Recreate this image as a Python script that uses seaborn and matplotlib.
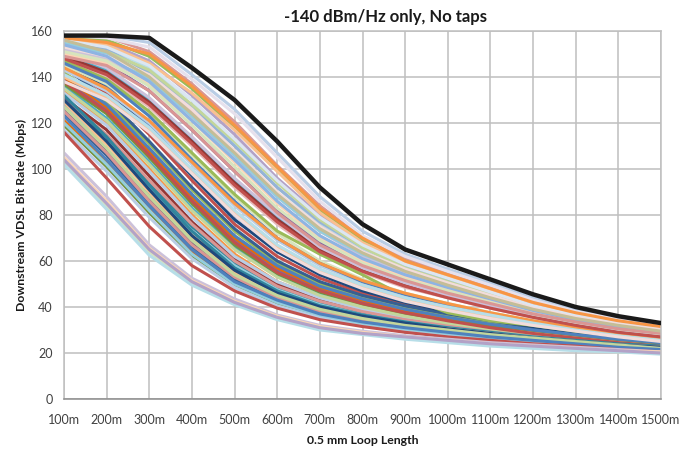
import matplotlib
matplotlib.use("Agg")
import matplotlib.pyplot as plt
import seaborn as sns
import pandas as pd

# Loop lengths (0.5 mm cable) and downstream VDSL bit rates in Mbps
lengths_m = [100, 200, 300, 400, 500, 600, 700, 800, 900, 1000, 1100, 1200, 1300, 1400, 1500]

# Best-case loop, drawn in black on top of all others
envelope = [158, 158, 157, 144, 130, 112, 92, 76, 65, 58.5, 52, 45.5, 40, 36, 33]

top_band = [
    [158, 158, 155, 141, 126, 107, 88, 73, 63, 56.5, 50.5, 44, 39, 35.5, 32.5],
    [157.5, 157.5, 151, 137, 120.5, 101.5, 84, 70, 61, 54.5, 48.5, 42.5, 37.5, 34.5, 32],
    [157, 156, 149, 135, 118, 100, 82, 69, 60, 53.5, 47.5, 41.5, 37, 34, 31.5],
    [156, 155, 147, 132, 115, 96, 80, 67, 59, 52.5, 46.5, 41, 36.5, 33.5, 31],
    [155, 153, 144, 130, 111, 92, 76, 65, 58, 51.5, 45.5, 40, 36, 33, 30.5],
    [157, 154, 146, 133, 117, 99, 81, 68, 59.5, 53.5, 47.5, 41.5, 37, 34, 31],
    [156, 152, 142, 127, 110, 92, 77, 66, 57.5, 51.5, 46, 40.5, 36, 33, 30.5],
    [153, 150, 140, 125, 107, 89, 75, 64, 56, 50.5, 45, 39.5, 35.5, 32.5, 30],
    [154, 151, 143, 128, 112, 94, 78, 66, 57, 51, 45.5, 40, 36, 32.5, 30],
    [152, 148, 138, 122, 105, 88, 73, 62, 55, 49, 44, 39, 35, 32, 29.5],
    [155, 150, 139, 123, 106, 88, 73, 63, 56, 50, 44.5, 39, 35, 32, 29.5],
    [150, 146, 137, 121, 103, 85, 70, 60, 53, 47.5, 42.5, 37.5, 34, 31, 29],
    [156, 153, 145, 130, 113, 95, 79, 67, 58.5, 52.5, 46.5, 40.5, 36.5, 33, 30.5],
    [153, 149, 141, 126, 108, 90, 75, 64, 56.5, 50.5, 45, 39.5, 35.5, 32.5, 30],
    [151, 147, 136, 119, 101, 83, 69, 59, 52, 47, 42, 37, 33.5, 30.5, 28.5],
    [158, 157, 153, 139, 124, 105, 86, 71, 62, 55.5, 49.5, 43, 38, 35, 32],
    [157, 155, 150, 136, 119, 101, 83, 70, 60, 54, 48, 42, 37.5, 34, 31.5],
    [154, 149, 138, 121, 104, 86, 71, 61, 54, 48.5, 43.5, 38.5, 34.5, 31.5, 29],
    [149, 145, 134, 117, 99, 81, 67, 58, 51.5, 46, 41.5, 37, 33.5, 30.5, 28.5],
    [156, 151, 140, 124, 107, 89, 74, 63.5, 55.5, 49.5, 44, 39, 35, 32, 29.5],
]

upper_band = [
    [150, 143, 130, 113, 95, 79, 66, 57, 50, 45, 40.5, 36.5, 33, 30, 28],
    [148, 140, 127, 110, 92, 76, 63, 55, 48.5, 44, 39.5, 35.5, 32, 29.5, 27.5],
    [152, 146, 134, 117, 99, 82, 68, 58, 51, 46, 41, 37, 33.5, 30.5, 28.5],
    [145, 137, 124, 106, 88, 72, 60, 52, 46, 41.5, 37.5, 34, 31, 28.5, 26.5],
    [147, 139, 125, 107, 89, 73, 63, 54, 44.5, 37.5, 34, 32, 29.5, 27.5, 25.5],
    [143, 134, 120, 102, 84, 69, 58, 50.5, 45, 40.5, 37, 33.5, 30.5, 28, 26],
    [149, 142, 129, 112, 94, 78, 65, 56, 49.5, 44.5, 40, 36, 32.5, 29.5, 27.5],
    [140, 131, 117, 99, 81, 66, 55.5, 48.5, 43, 39, 35.5, 32.5, 30, 27.5, 25.5],
    [146, 138, 123, 104, 86, 70, 59, 51, 45.5, 41, 37, 33.5, 30.5, 28, 26],
    [151, 144, 131, 114, 96, 80, 66, 57, 50.5, 45, 40.5, 36.5, 33, 30, 28],
    [144, 135, 121, 103, 85, 70, 59, 51.5, 46, 41.5, 37.5, 34, 31, 28.5, 26.5],
    [141, 132, 118, 100, 82, 67, 56.5, 49.5, 44, 40, 36.5, 33, 30, 27.5, 25.5],
    [148, 141, 128, 111, 93, 77, 64, 55.5, 49, 44, 39.5, 35.5, 32, 29, 27],
    [138, 130, 116, 98, 80, 65, 55, 48, 42.5, 38.5, 35, 32, 29.5, 27, 25],
]

middle_band = [
    [147, 136, 119, 99, 80, 65, 55, 48, 43, 39, 35.5, 32.5, 29.5, 27, 25],
    [145, 133, 115, 95, 76, 62, 52.5, 46, 41, 37.5, 34, 31, 28.5, 26, 24.5],
    [142, 129, 111, 91, 73, 59, 50, 44, 39.5, 36, 33, 30, 27.5, 25.5, 24],
    [139, 126, 107, 87, 69, 56, 47.5, 42, 38, 34.5, 31.5, 29, 27, 25, 23.5],
    [136, 122, 103, 83, 66, 53.5, 45.5, 40.5, 36.5, 33.5, 31, 28.5, 26.5, 24.5, 23],
    [134, 120, 100, 80, 63, 51, 44, 39, 35.5, 32.5, 30, 28, 26, 24, 22.5],
    [131, 117, 97, 77, 61, 50, 43, 38, 34.5, 32, 29.5, 27.5, 25.5, 23.5, 22],
    [128, 114, 94, 75, 59, 48, 41.5, 37, 34, 31.5, 29, 27, 25, 23.5, 22],
    [126, 111, 91, 72, 57, 47, 40.5, 36, 33, 30.5, 28.5, 26.5, 24.5, 23, 21.5],
    [124, 108, 88, 70, 55, 45.5, 39.5, 35, 32, 30, 28, 26, 24.5, 23, 21.5],
    [144, 131, 112, 92, 74, 60, 51, 45, 40.5, 37, 34, 31, 28.5, 26.5, 25],
    [140, 127, 108, 88, 70, 57, 48.5, 43, 38.5, 35, 32, 29.5, 27.5, 25.5, 24],
    [137, 124, 105, 85, 67, 54.5, 46.5, 41, 37, 34, 31.5, 29, 27, 25, 23.5],
    [133, 119, 99, 79, 62, 51, 44, 39, 35.5, 33, 30.5, 28, 26, 24, 22.5],
    [130, 115, 95, 76, 60, 49, 42.5, 38, 34.5, 32, 29.5, 27.5, 25.5, 23.5, 22],
    [146, 135, 117, 97, 78, 64, 54, 47, 42, 38, 34.5, 31.5, 29, 26.5, 25],
    [127, 112, 92, 73, 58, 47.5, 41, 36.5, 33.5, 31, 29, 27, 25, 23.5, 22],
    [135, 121, 102, 82, 65, 53, 45, 40, 36, 33, 30.5, 28.5, 26.5, 24.5, 23],
    [141, 128, 109, 89, 71, 58, 49, 43.5, 39, 35.5, 32.5, 30, 28, 26, 24.5],
    [138, 125, 106, 86, 68, 55, 47, 41.5, 37.5, 34, 31, 28.5, 26.5, 24.5, 23],
]

lower_band = [
    [132, 114, 93, 73, 57, 47, 40.5, 36.5, 33.5, 31, 29, 27, 25.5, 24, 23],
    [129, 111, 90, 70, 55, 45.5, 39.5, 35.5, 32.5, 30.5, 28.5, 26.5, 25, 23.5, 22.5],
    [126, 108, 87, 68, 53.5, 44.5, 38.5, 34.5, 32, 30, 28, 26, 24.5, 23, 22],
    [124, 106, 85, 66, 52, 43.5, 37.5, 34, 31.5, 29.5, 27.5, 25.5, 24, 23, 21.5],
    [121, 103, 83, 64, 50.5, 42, 36.5, 33, 30.5, 28.5, 27, 25, 23.5, 22.5, 21.5],
    [119, 101, 81, 62, 49.5, 41.5, 36, 32.5, 30, 28, 26.5, 25, 23.5, 22, 21],
    [117, 99, 79, 61, 48.5, 40.5, 35.5, 32, 29.5, 27.5, 26, 24.5, 23, 22, 21],
    [125, 107, 86, 67, 53, 44, 38, 34, 31.5, 29.5, 27.5, 26, 24.5, 23, 22],
    [130, 112, 91, 71, 56, 46, 40, 36, 33, 30.5, 28.5, 26.5, 25, 23.5, 22.5],
    [120, 102, 82, 63, 50, 42, 36.5, 33, 30.5, 28.5, 26.5, 25, 23.5, 22, 21],
    [127, 109, 88, 69, 54, 45, 39, 35, 32, 30, 28, 26.5, 25, 23.5, 22],
    [123, 104, 84, 65, 51, 43, 37, 33.5, 31, 29, 27, 25.5, 24, 22.5, 21.5],
    [116, 96, 75, 58, 47, 39.5, 34.5, 31.5, 29, 27, 25.5, 24, 23, 21.5, 20.5],
]

bottom_band = [
    [107, 88, 67, 52.5, 43.5, 36.5, 32, 29.5, 27.5, 26, 24.5, 23.5, 22.5, 21.5, 20.5],
    [105, 86, 65.5, 51.5, 42.5, 36, 31.5, 29, 27, 25.5, 24, 23, 22, 21, 20.5],
    [103, 84, 64, 50.5, 42, 35.5, 31, 28.5, 26.5, 25, 23.5, 22.5, 21.5, 20.5, 20],
    [102, 82.5, 62.5, 49.5, 41, 34.5, 30, 28, 26, 24.5, 23, 22, 21, 20.5, 19.5],
    [104, 85, 65, 51, 42, 35.5, 31, 28.5, 27, 25.5, 24, 23, 22, 21, 20],
]

tick_labels = [f"{v}m" for v in lengths_m]

# Office-style series colours: light tints for the faster loops, full shades below
light_colors = ["#B9CDE5", "#D99694", "#9BBB59", "#B3A2C7", "#B7DEE8", "#FAC090",
                "#95B3D7", "#E6B9B8", "#C3D69B", "#CCC1DA", "#93CDDD", "#FCD5B5",
                "#DCE6F2", "#F2DCDB", "#D7E4BD", "#E6E0EC", "#F79646", "#8EB4E3",
                "#DA9694", "#C4BD97"]
mixed_colors = ["#4BACC6", "#E6B9B8", "#8064A2", "#D7E4BD", "#9BBB59", "#B9CDE5",
                "#953735", "#FAC090", "#4F81BD", "#CCC1DA", "#F79646", "#B7DEE8",
                "#C0504D", "#F2DCDB"]
full_colors = ["#4F81BD", "#C0504D", "#9BBB59", "#8064A2", "#4BACC6", "#F79646",
               "#953735", "#31859C", "#FAC090", "#604A7B", "#376092", "#E46C0A",
               "#77933C", "#B9CDE5", "#D99694", "#1F497D", "#93CDDD", "#C3D69B"]
bottom_colors = ["#CCC1DA", "#FCD5B5", "#D7E4BD", "#B7DEE8", "#B3A2C7"]

bands = [
    ("mid", middle_band, full_colors),
    ("low", lower_band, full_colors[7:] + full_colors[:7]),
    ("bot", bottom_band, bottom_colors),
    ("up", upper_band, mixed_colors),
    ("top", top_band, light_colors),
]

frames = []
palette = {}
for name, band, colors in bands:
    for i, values in enumerate(band):
        key = f"{name}{i:02d}"
        palette[key] = colors[i % len(colors)]
        frames.append(pd.DataFrame({"length": lengths_m, "rate": values, "loop": key}))
df = pd.concat(frames, ignore_index=True)
df_env = pd.DataFrame({"length": lengths_m, "rate": envelope})

sns.set_theme(style="white")
plt.rcParams["font.family"] = ["Lato", "DejaVu Sans"]

fig = plt.figure(figsize=(6.96, 4.5), dpi=100)
ax = fig.add_axes([64 / 696, 1 - 399 / 450, (661 - 64) / 696, (399 - 31) / 450])

sns.lineplot(data=df, x="length", y="rate", hue="loop", palette=palette,
             hue_order=list(palette.keys()), estimator=None, sort=False,
             legend=False, linewidth=2.2, ax=ax)
sns.lineplot(data=df_env, x="length", y="rate", color="#1A1A1A",
             estimator=None, sort=False, linewidth=3.2, ax=ax, zorder=5)

grid_c = "#BFBFBF"
ax.set_xlim(100, 1500)
ax.set_ylim(0, 160)
ax.set_xticks(lengths_m)
ax.set_xticklabels(tick_labels)
ax.set_yticks(range(0, 161, 20))
ax.grid(True, color=grid_c, linewidth=1.1)
ax.set_axisbelow(True)
for side in ["top", "right", "left"]:
    ax.spines[side].set_visible(True)
    ax.spines[side].set_color(grid_c)
    ax.spines[side].set_linewidth(1.1)
ax.spines["bottom"].set_color("#8C8C8C")
ax.spines["bottom"].set_linewidth(1.1)
ax.tick_params(axis="both", which="both", direction="out", length=5, width=1,
               color="#8C8C8C", labelsize=9, labelcolor="#404040", pad=3)
ax.tick_params(axis="x", pad=6)

ax.set_xlabel("")
ax.set_ylabel("")
fig.text(386 / 696, 1 - 17 / 450, "-140 dBm/Hz only, No taps", ha="center", va="center",
         fontsize=12, fontweight="bold", color="#1A1A1A")
fig.text(363 / 696, 1 - 440 / 450, "0.5 mm Loop Length", ha="center", va="center",
         fontsize=8.8, fontweight="bold", color="#1A1A1A")
fig.text(21 / 696, 1 - 215 / 450, "Downstream VDSL Bit Rate (Mbps)", ha="center", va="center",
         rotation=90, fontsize=8.8, fontweight="bold", color="#1A1A1A")

fig.savefig("out.png", dpi=100)
